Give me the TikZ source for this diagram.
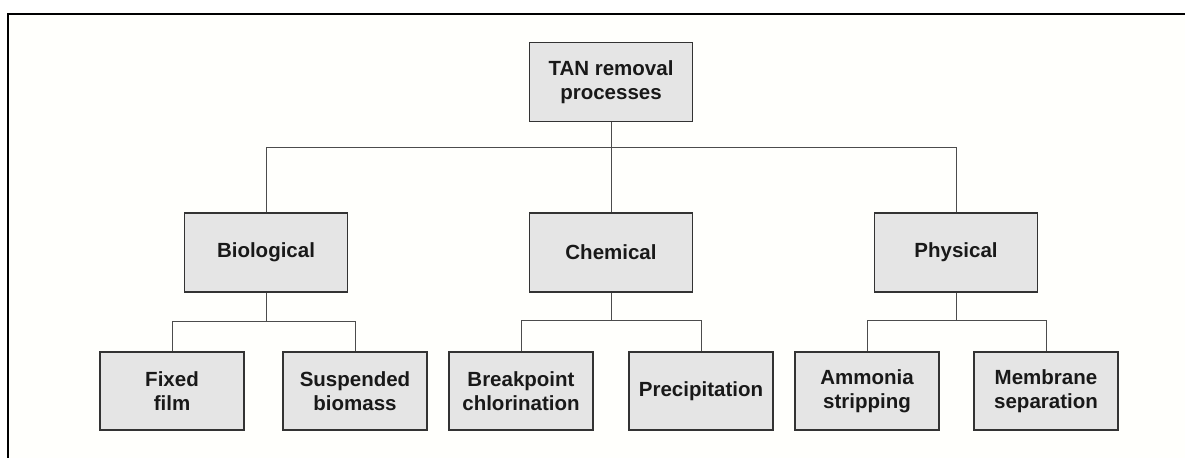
\documentclass[tikz,border=0pt]{standalone}
\usepackage{fontspec}
\setmainfont{Liberation Sans}
\begin{document}
\begin{tikzpicture}[x=1pt,y=-1pt,
  box/.style={draw=black!80,line width=1.2pt,fill=black!10,inner sep=0pt,
    align=center,font=\bfseries\fontsize{20.5}{23.5}\selectfont,text=black!90},
  midbox/.style={box,minimum width=163pt,minimum height=79pt},
  leafbox/.style={box,minimum width=144pt,minimum height=78pt},
  conn/.style={draw=black!70,line width=1pt}]
\useasboundingbox (0,0) rectangle (1185,458);
\fill[white!98!yellow!50!white] (8,14) rectangle (1185,458);
\draw[black,line width=1.3pt] (1185,14) -- (8,14) -- (8,458);
\node[midbox] (tan) at (611,82) {TAN removal\\processes};
\node[midbox] (bio) at (266,252.5) {Biological};
\node[midbox] (chem) at (611,252.5) {Chemical};
\node[midbox] (phy) at (956,252.5) {Physical};
\node[leafbox] (ff) at (172,391) {Fixed\\film};
\node[leafbox] (sb) at (355,391) {Suspended\\biomass};
\node[leafbox] (bc) at (521,391) {Breakpoint\\chlorination};
\node[leafbox] (pr) at (701,391) {Precipitation};
\node[leafbox] (as) at (867,391) {Ammonia\\stripping};
\node[leafbox] (ms) at (1046,391) {Membrane\\separation};
\coordinate (j0) at (611,147);
\coordinate (j1) at (266,321);
\coordinate (j2) at (611,320);
\coordinate (j3) at (956,320);
\draw[conn] (tan.south) -- (chem.north);
\draw[conn] (bio.north) -- (bio.north |- j0) -- (phy.north |- j0) -- (phy.north);
\draw[conn] (bio.south) -- (j1);
\draw[conn] (ff.north) -- (ff.north |- j1) -- (sb.north |- j1) -- (sb.north);
\draw[conn] (chem.south) -- (j2);
\draw[conn] (bc.north) -- (bc.north |- j2) -- (pr.north |- j2) -- (pr.north);
\draw[conn] (phy.south) -- (j3);
\draw[conn] (as.north) -- (as.north |- j3) -- (ms.north |- j3) -- (ms.north);
\end{tikzpicture}
\end{document}
